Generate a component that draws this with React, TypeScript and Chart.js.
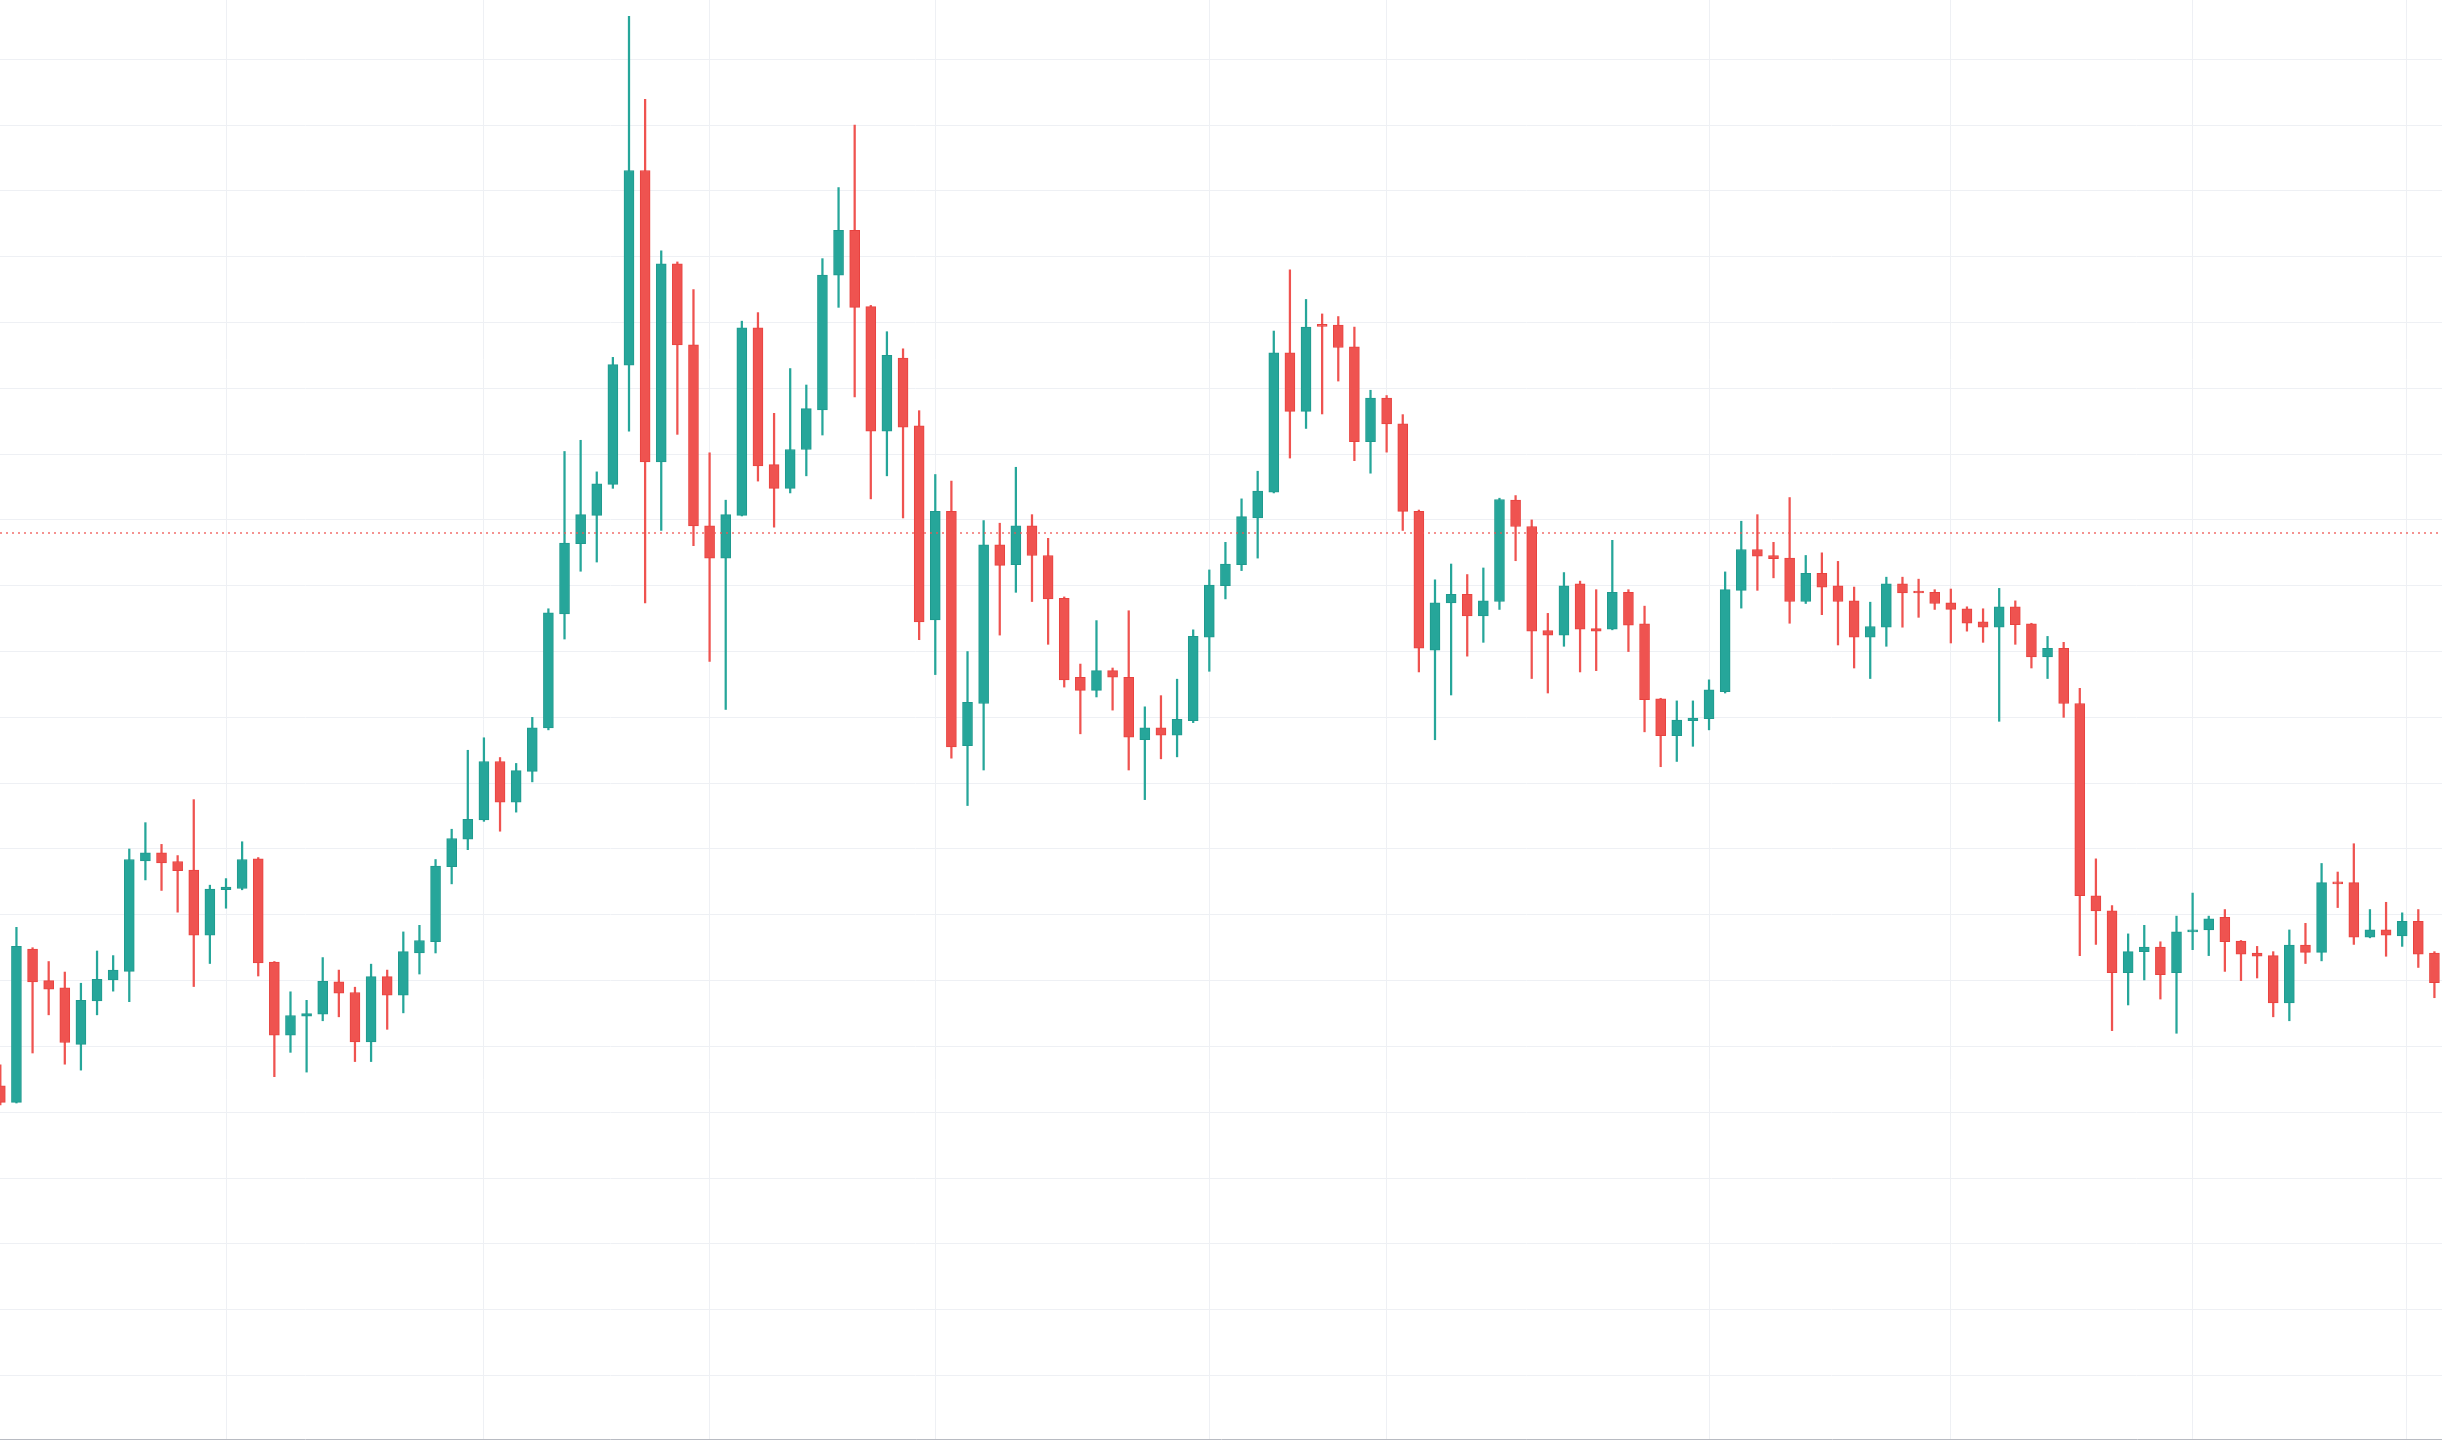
import React, { useEffect, useRef } from "react";
import { Chart, registerables } from "chart.js";

Chart.register(...registerables);

// OHLC values, one entry per session (index = session number)
const OPEN = [
  54.0, 51.5, 74.8, 70.0, 68.9, 60.3, 66.9, 70.1, 71.4, 88.2,
  89.4, 88.1, 86.8, 76.9, 83.8, 84.0, 88.5, 72.8, 61.7, 64.6,
  64.9, 69.8, 68.2, 60.7, 70.6, 67.8, 74.2, 75.9, 87.3, 91.5,
  94.4, 103.3, 97.1, 101.8, 108.4, 125.7, 136.4, 140.7, 145.4, 163.5,
  193.1, 148.8, 178.9, 166.6, 139.1, 134.2, 140.7, 169.2, 148.4, 144.8,
  150.7, 156.7, 177.2, 184.0, 172.4, 153.5, 164.6, 154.3, 124.8, 141.3,
  105.7, 112.1, 136.2, 133.2, 139.1, 134.6, 128.1, 116.1, 114.1, 117.1,
  116.1, 106.6, 108.4, 107.3, 109.5, 122.2, 130.0, 133.2, 140.3, 144.2,
  165.4, 156.5, 169.7, 169.6, 166.3, 151.9, 158.5, 154.6, 141.3, 120.2,
  127.4, 128.7, 125.4, 127.6, 143.0, 139.0, 123.2, 122.5, 130.3, 123.5,
  123.4, 129.0, 124.2, 112.8, 107.2, 109.5, 109.8, 113.9, 129.3, 135.5,
  134.6, 134.2, 127.6, 131.9, 130.0, 127.7, 122.2, 123.7, 130.3, 129.1,
  129.0, 127.4, 126.5, 124.5, 123.7, 126.8, 124.2, 119.2, 120.5, 112.1,
  82.9, 80.6, 71.2, 74.4, 75.1, 71.2, 77.4, 77.7, 79.6, 76.0,
  74.2, 73.8, 66.6, 75.4, 74.3, 84.9, 84.9, 76.6, 77.7, 76.8,
  79.0, 74.2,
];

const HIGH = [
  57.2, 78.1, 75.0, 72.9, 71.3, 69.6, 74.5, 73.8, 90.0, 94.0,
  90.7, 89.0, 97.5, 84.5, 85.5, 91.1, 88.7, 72.9, 68.3, 67.0,
  73.5, 71.6, 69.0, 72.5, 71.6, 77.4, 78.4, 88.4, 93.0, 105.0,
  106.9, 103.9, 103.0, 110.0, 126.5, 150.4, 152.1, 147.3, 164.7, 216.5,
  203.9, 180.9, 179.2, 175.0, 150.2, 143.0, 170.2, 171.5, 156.2, 163.0,
  160.5, 179.7, 190.5, 200.0, 172.6, 168.6, 166.0, 156.6, 146.9, 145.9,
  120.0, 139.9, 139.5, 148.0, 140.8, 137.2, 128.3, 118.1, 124.7, 117.5,
  126.2, 111.6, 113.3, 115.8, 123.3, 132.4, 136.6, 143.2, 147.4, 168.7,
  178.0, 173.5, 171.3, 170.9, 169.3, 159.7, 158.9, 156.0, 141.5, 130.9,
  133.3, 131.7, 132.7, 143.3, 143.7, 140.0, 125.8, 132.0, 130.7, 129.4,
  136.9, 129.4, 126.9, 112.9, 112.5, 112.5, 115.7, 132.1, 139.8, 140.8,
  136.6, 143.4, 134.6, 135.0, 133.7, 129.8, 127.5, 131.3, 131.3, 131.0,
  129.4, 129.5, 126.8, 126.5, 129.6, 127.7, 124.3, 122.3, 121.4, 114.4,
  88.5, 81.4, 77.1, 78.4, 75.9, 79.8, 83.3, 79.8, 80.8, 76.1,
  75.2, 74.4, 77.7, 78.7, 87.8, 86.5, 90.8, 80.8, 81.9, 80.3,
  80.8, 74.4,
];

const LOW = [
  51.1, 51.4, 59.0, 64.8, 57.3, 56.4, 64.8, 68.4, 66.8, 85.3,
  83.7, 80.4, 69.1, 72.6, 81.0, 83.8, 70.7, 55.4, 59.1, 56.1,
  63.9, 64.5, 57.7, 57.7, 62.6, 65.1, 71.0, 74.2, 84.7, 89.9,
  94.2, 92.7, 95.6, 100.2, 108.1, 121.9, 132.2, 133.6, 144.8, 153.5,
  127.4, 138.4, 153.0, 136.1, 118.5, 111.2, 140.6, 145.9, 138.9, 144.1,
  146.7, 152.9, 172.3, 158.7, 143.2, 146.7, 140.3, 121.8, 116.5, 103.8,
  96.6, 102.0, 122.5, 129.0, 127.6, 121.1, 114.6, 107.5, 113.1, 111.1,
  102.0, 97.5, 103.7, 104.0, 109.2, 117.0, 128.0, 132.3, 134.2, 144.1,
  149.4, 153.9, 156.1, 161.1, 149.0, 147.1, 150.3, 138.4, 116.9, 106.6,
  113.4, 119.3, 121.4, 126.4, 133.8, 115.9, 113.7, 120.8, 116.9, 117.1,
  123.3, 120.0, 107.8, 102.5, 103.3, 105.6, 108.1, 113.7, 126.6, 129.3,
  131.2, 124.3, 127.3, 125.6, 121.0, 117.5, 115.9, 120.8, 123.7, 125.2,
  126.4, 121.3, 123.1, 121.4, 109.4, 121.1, 117.5, 115.9, 110.0, 73.8,
  75.5, 62.4, 66.3, 70.1, 67.2, 62.0, 74.7, 73.8, 71.4, 70.0,
  70.4, 64.5, 63.9, 72.6, 73.0, 81.1, 75.5, 76.5, 73.7, 75.2,
  72.0, 67.4,
];

const CLOSE = [
  51.5, 75.2, 69.8, 68.7, 60.6, 67.0, 70.2, 71.6, 88.4, 89.4,
  87.9, 86.7, 76.9, 83.9, 84.2, 88.4, 72.7, 61.7, 64.7, 65.0,
  69.9, 68.1, 60.7, 70.6, 67.8, 74.4, 76.1, 87.4, 91.6, 94.5,
  103.3, 97.1, 101.9, 108.4, 125.9, 136.5, 140.8, 145.5, 163.6, 193.1,
  148.8, 178.9, 166.6, 139.1, 134.2, 140.8, 169.2, 148.2, 144.8, 150.7,
  156.9, 177.2, 184.0, 172.3, 153.5, 165.0, 154.1, 124.5, 141.3, 105.5,
  112.3, 136.2, 133.1, 139.1, 134.6, 128.0, 115.7, 114.1, 117.1, 116.1,
  107.0, 108.4, 107.3, 109.7, 122.3, 130.1, 133.3, 140.5, 144.4, 165.4,
  156.5, 169.3, 169.4, 166.2, 151.9, 158.5, 154.6, 141.3, 120.5, 127.4,
  128.7, 125.4, 127.7, 143.1, 139.0, 123.1, 122.5, 130.0, 123.4, 123.1,
  129.0, 124.0, 112.7, 107.2, 109.6, 109.9, 114.2, 129.4, 135.5, 134.5,
  134.1, 127.6, 131.9, 129.8, 127.6, 122.2, 123.8, 130.3, 128.9, 128.9,
  127.3, 126.4, 124.3, 123.7, 126.8, 124.1, 119.2, 120.5, 112.1, 82.9,
  80.6, 71.2, 74.4, 75.1, 70.9, 77.4, 77.7, 79.4, 75.9, 74.0,
  73.7, 66.6, 75.4, 74.3, 84.9, 84.7, 76.6, 77.7, 76.9, 79.0,
  74.0, 69.7,
];

// horizontal price grid levels and vertical (date) grid positions
const PRICE_GRID = [
  10, 20, 30, 40, 50, 60, 70, 80, 90, 100, 110,
  120, 130, 140, 150, 160, 170, 180, 190, 200, 210,
];
const DATE_GRID = [14, 30, 44, 58, 75, 86, 106, 121, 136, 149.25];

// dotted price line level
const PRICE_LINE = 138.0;

// visible range
const X_MIN = -0.02;
const X_MAX = 151.47;
const Y_MIN = 0.35;
const Y_MAX = 219.0;

const UP = "#26a69a";
const DOWN = "#ef5350";
const UP_BORDER = "#1f9a8e";
const DOWN_BORDER = "#e8423f";
const GRID = "#eef0f4";

export default function App() {
  const ref = useRef<HTMLCanvasElement | null>(null);

  useEffect(() => {
    document.body.style.margin = "0";
    document.body.style.overflow = "hidden";
    const canvas = ref.current;
    if (!canvas) return;

    const isUp = (i: number) => CLOSE[i] >= OPEN[i];

    const chart = new Chart(canvas, {
      type: "bar",
      data: {
        datasets: [
          {
            type: "line",
            data: [
              { x: X_MIN, y: PRICE_LINE },
              { x: X_MAX, y: PRICE_LINE },
            ],
            borderColor: "rgba(239,83,80,0.85)",
            borderWidth: 1.5,
            borderDash: [2, 4],
            pointRadius: 0,
            fill: false,
            order: 0,
          } as any,
          {
            data: OPEN.map((o, i) => ({ x: i, y: [o, CLOSE[i]] })),
            backgroundColor: OPEN.map((_, i) => (isUp(i) ? UP : DOWN)),
            borderColor: OPEN.map((_, i) => (isUp(i) ? UP_BORDER : DOWN_BORDER)),
            borderWidth: 1,
            borderSkipped: false,
            barThickness: 10,
            minBarLength: 2,
            grouped: false,
            order: 1,
          } as any,
          {
            data: OPEN.map((_, i) => ({ x: i, y: [LOW[i], HIGH[i]] })),
            backgroundColor: OPEN.map((_, i) => (isUp(i) ? UP : DOWN)),
            borderWidth: 0,
            barThickness: 1.6,
            grouped: false,
            order: 2,
          } as any,
        ],
      },
      options: {
        animation: false,
        responsive: true,
        maintainAspectRatio: false,
        layout: { padding: { left: 0, right: 0, top: 0, bottom: 1 } },
        plugins: {
          legend: { display: false },
          tooltip: { enabled: false },
        },
        scales: {
          x: {
            type: "linear",
            min: X_MIN,
            max: X_MAX,
            offset: false,
            grid: { offset: false, color: GRID, lineWidth: 1, drawTicks: false },
            ticks: { display: false },
            border: { display: true, color: "#b8bbc2", width: 1 },
            afterBuildTicks: (scale: any) => {
              scale.ticks = DATE_GRID.map((v) => ({ value: v }));
            },
          },
          y: {
            type: "linear",
            min: Y_MIN,
            max: Y_MAX,
            grid: { color: GRID, lineWidth: 1, drawTicks: false },
            ticks: { display: false },
            border: { display: false },
            afterBuildTicks: (scale: any) => {
              scale.ticks = PRICE_GRID.map((v) => ({ value: v }));
            },
          },
        },
      } as any,
    });

    return () => chart.destroy();
  }, []);

  return (
    <div style={{ position: "relative", width: "2442px", height: "1440px", background: "#ffffff" }}>
      <canvas ref={ref} style={{ display: "block" }} />
    </div>
  );
}
